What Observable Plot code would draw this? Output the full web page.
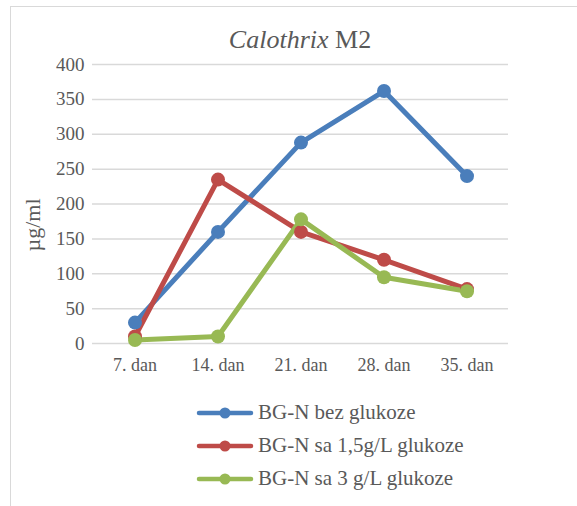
<!DOCTYPE html>
<html>
<head>
<meta charset="utf-8">
<script src="https://cdn.jsdelivr.net/npm/d3@7"></script>
<script src="https://cdn.jsdelivr.net/npm/@observablehq/plot@0.6"></script>
<style>
  body { margin: 0; background: #fff; }
  #wrap { position: relative; width: 577px; height: 506px; overflow: hidden; font-family: "Liberation Serif", "Times New Roman", serif; color: #595959; }
  #frame { position: absolute; left: 10px; top: 6px; width: 600px; height: 600px; border: 1px solid #d9d9d9; box-sizing: border-box; }
  #title { position: absolute; left: 0; width: 600px; top: 25px; text-align: center; font-family: "Liberation Serif", serif; font-size: 26px; line-height: 30px; color: #595959; }
  #chart { position: absolute; left: 0; top: 0; }
  #ylabel { position: absolute; left: 33px; top: 225px; transform: translate(-50%, -50%) rotate(-90deg); font-family: "Liberation Serif", serif; font-size: 22px; white-space: nowrap; color: #595959; }
  #legend { position: absolute; left: 195px; top: 396px; font-family: "Liberation Serif", serif; font-size: 21px; color: #595959; }
  .row { display: flex; align-items: center; height: 33px; }
  .row svg { margin-right: 3px; }
</style>
</head>
<body>
<div id="wrap">
  <div id="frame"></div>
  <div id="chart"></div>
  <div id="title"><i>Calothrix</i> M2</div>
  <div id="ylabel">µg/ml</div>
  <div id="legend"></div>
</div>
<script>
const categories = ["7. dan", "14. dan", "21. dan", "28. dan", "35. dan"];
const seriesNames = ["BG-N bez glukoze", "BG-N sa 1,5g/L glukoze", "BG-N sa 3 g/L glukoze"];
const seriesColors = ["#4a7ebb", "#be4b48", "#98b954"];
const bezGlukoze = [30, 160, 288, 362, 240];
const sa15 = [10, 235, 160, 120, 78];
const sa3 = [5, 10, 178, 95, 75];
const yTicks = [0, 50, 100, 150, 200, 250, 300, 350, 400];

const allSeries = [bezGlukoze, sa15, sa3];
const data = [];
allSeries.forEach((vals, si) => vals.forEach((v, i) => data.push({series: seriesNames[si], cat: categories[i], value: v})));

const plot = Plot.plot({
  width: 577,
  height: 380,
  marginLeft: 92,
  marginRight: 69,
  marginTop: 64,
  marginBottom: 37,
  style: {fontFamily: "'Liberation Serif', 'Times New Roman', serif", color: "#595959", background: "transparent", overflow: "visible"},
  x: {type: "band", domain: categories, padding: 0, label: null},
  y: {domain: [0, 400], ticks: yTicks, label: null},
  color: {domain: seriesNames, range: seriesColors},
  marks: [
    Plot.ruleY(yTicks, {stroke: "#d9d9d9", strokeWidth: 1.5}),
    Plot.axisX({tickSize: 0, tickPadding: 15, fontSize: 18, fill: "#595959", label: null}),
    Plot.axisY({ticks: yTicks, tickSize: 0, tickPadding: 8, fontSize: 19, fill: "#595959", label: null}),
    Plot.line(data, {x: "cat", y: "value", z: "series", stroke: "series", strokeWidth: 5, strokeLinejoin: "round", strokeLinecap: "round"}),
    Plot.dot(data, {x: "cat", y: "value", fill: "series", r: 7})
  ]
});
document.getElementById("chart").appendChild(plot);

const legend = document.getElementById("legend");
seriesNames.forEach((name, i) => {
  const row = document.createElement("div");
  row.className = "row";
  row.innerHTML = `<svg width="60" height="14"><line x1="4" y1="7" x2="56" y2="7" stroke="${seriesColors[i]}" stroke-width="4.5" stroke-linecap="round"/><circle cx="30" cy="7" r="5.5" fill="${seriesColors[i]}"/></svg><span>${name}</span>`;
  legend.appendChild(row);
});
</script>
</body>
</html>
